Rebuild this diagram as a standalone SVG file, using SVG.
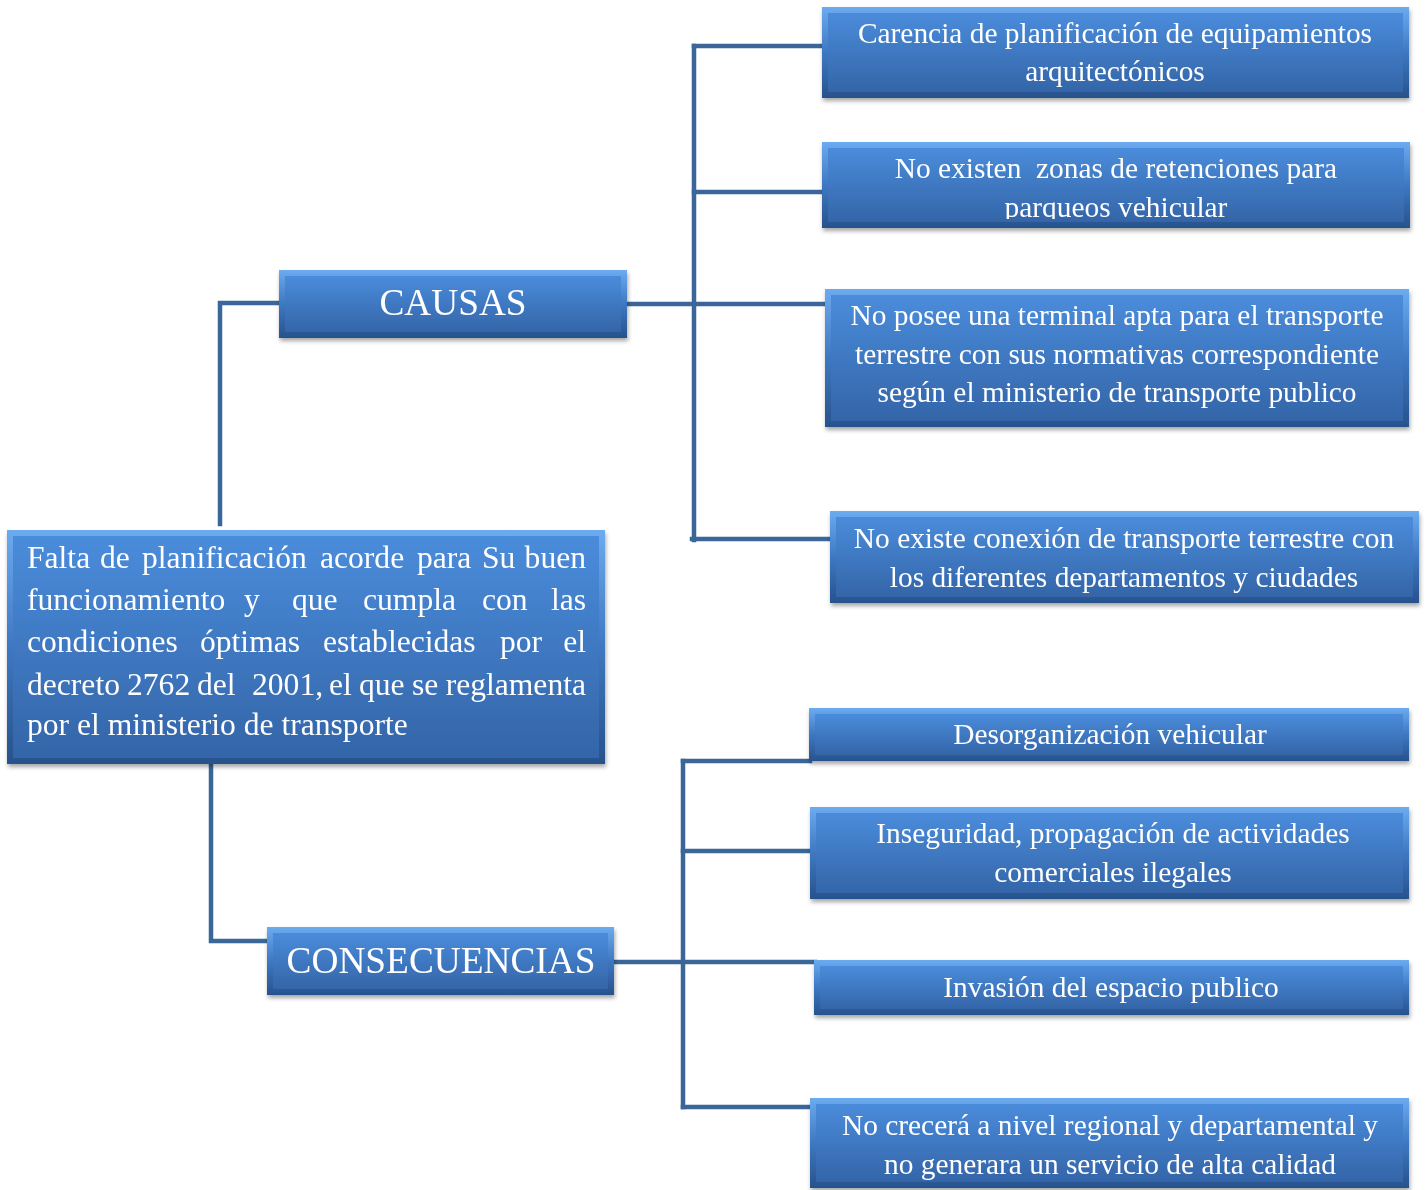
<svg xmlns="http://www.w3.org/2000/svg" width="1426" height="1190" viewBox="0 0 1426 1190">
<style>
.t{font-family:"Liberation Serif","Times New Roman",serif;fill:#ffffff;font-size:29.4px;text-anchor:middle}
.m{font-family:"Liberation Serif","Times New Roman",serif;fill:#ffffff;font-size:31.6px;text-anchor:start}
.e{text-anchor:end}
.big{font-size:37.3px}
.conn{stroke:#3a6699;stroke-width:4.5;fill:none;stroke-linecap:square}
.edge{fill:url(#bev)}
.face{fill:url(#face)}
</style>
<defs>
<linearGradient id="bev" x1="0" y1="0" x2="0" y2="1">
<stop offset="0" stop-color="#6cabf0"/>
<stop offset="0.5" stop-color="#3e78c2"/>
<stop offset="1" stop-color="#27528c"/>
</linearGradient>
<linearGradient id="face" x1="0" y1="0" x2="0" y2="1">
<stop offset="0" stop-color="#4a8cdb"/>
<stop offset="1" stop-color="#3465a8"/>
</linearGradient>
<filter id="sh" x="-5%" y="-10%" width="110%" height="130%">
<feDropShadow dx="1" dy="3" stdDeviation="2" flood-color="#000" flood-opacity="0.35"/>
</filter>
<clipPath id="c2"><rect x="822" y="142" width="588" height="77"/></clipPath>
</defs>
<rect width="1426" height="1190" fill="#ffffff"/>

<g id="connectors">
<polyline class="conn" points="220,524 220,303 281,303"/>
<line class="conn" x1="627" y1="304" x2="826" y2="304"/>
<line class="conn" x1="694" y1="46" x2="694" y2="540"/>
<line class="conn" x1="694" y1="46" x2="823" y2="46"/>
<line class="conn" x1="694" y1="192" x2="823" y2="192"/>
<line class="conn" x1="692" y1="539" x2="831" y2="539"/>
<polyline class="conn" points="211,764 211,941 268,941"/>
<line class="conn" x1="614" y1="962" x2="815" y2="962"/>
<line class="conn" x1="683" y1="761" x2="683" y2="1107"/>
<line class="conn" x1="683" y1="761" x2="810" y2="761"/>
<line class="conn" x1="683" y1="851" x2="811" y2="851"/>
<line class="conn" x1="683" y1="1107" x2="811" y2="1107"/>
</g>

<g id="main" filter="url(#sh)">
<rect class="edge" x="7" y="530" width="598" height="234"/>
<rect class="face" x="13" y="536" width="586" height="222"/>
<text class="m" y="568"><tspan x="27">Falta</tspan><tspan x="100">de</tspan><tspan x="142">planificación</tspan><tspan x="320">acorde</tspan><tspan x="417">para</tspan><tspan x="482">Su</tspan></text>
<text class="m e" x="586" y="568">buen</text>
<text class="m" y="610"><tspan x="27">funcionamiento</tspan><tspan x="244">y</tspan><tspan x="292">que</tspan><tspan x="363">cumpla</tspan><tspan x="482">con</tspan></text>
<text class="m e" x="586" y="610">las</text>
<text class="m" y="652"><tspan x="27">condiciones</tspan><tspan x="200">óptimas</tspan><tspan x="323">establecidas</tspan><tspan x="500">por</tspan></text>
<text class="m e" x="586" y="652">el</text>
<text class="m" y="695"><tspan x="27">decreto</tspan><tspan x="127">2762</tspan><tspan x="197">del</tspan><tspan x="252">2001,</tspan><tspan x="329">el</tspan><tspan x="359">que</tspan><tspan x="412">se</tspan></text>
<text class="m e" x="586" y="695">reglamenta</text>
<text class="m" x="27" y="735">por el ministerio de transporte</text>
</g>

<g id="causas" filter="url(#sh)">
<rect class="edge" x="279" y="270" width="348" height="68"/>
<rect class="face" x="285" y="276" width="336" height="56"/>
<text class="t big" x="453" y="315">CAUSAS</text>
</g>

<g id="consecuencias" filter="url(#sh)">
<rect class="edge" x="267" y="927" width="347" height="68"/>
<rect class="face" x="273" y="933" width="335" height="56"/>
<text class="t big" x="441" y="973">CONSECUENCIAS</text>
</g>

<g id="c1" filter="url(#sh)">
<rect class="edge" x="822" y="7" width="587" height="91"/>
<rect class="face" x="828" y="13" width="575" height="79"/>
<text class="t" x="1115" y="43">Carencia de planificación de equipamientos</text>
<text class="t" x="1115" y="81">arquitectónicos</text>
</g>

<g id="c2n" filter="url(#sh)">
<rect class="edge" x="822" y="142" width="588" height="86"/>
<rect class="face" x="828" y="148" width="576" height="74"/>
<g clip-path="url(#c2)">
<text class="t" x="1116" y="178" xml:space="preserve">No existen  zonas de retenciones para</text>
<text class="t" x="1116" y="217">parqueos vehicular</text>
</g>
</g>

<g id="c3" filter="url(#sh)">
<rect class="edge" x="825" y="289" width="584" height="138"/>
<rect class="face" x="831" y="295" width="572" height="126"/>
<text class="t" x="1117" y="325">No posee una terminal apta para el transporte</text>
<text class="t" x="1117" y="364">terrestre con sus normativas correspondiente</text>
<text class="t" x="1117" y="402">según el ministerio de transporte publico</text>
</g>

<g id="c4" filter="url(#sh)">
<rect class="edge" x="830" y="511" width="589" height="92"/>
<rect class="face" x="836" y="517" width="577" height="80"/>
<text class="t" x="1124" y="548">No existe conexión de transporte terrestre con</text>
<text class="t" x="1124" y="587">los diferentes departamentos y ciudades</text>
</g>

<g id="k1" filter="url(#sh)">
<rect class="edge" x="809" y="708" width="600" height="53"/>
<rect class="face" x="815" y="714" width="588" height="41"/>
<text class="t" x="1110" y="744">Desorganización vehicular</text>
</g>

<g id="k2" filter="url(#sh)">
<rect class="edge" x="810" y="807" width="599" height="92"/>
<rect class="face" x="816" y="813" width="587" height="80"/>
<text class="t" x="1113" y="843">Inseguridad, propagación de actividades</text>
<text class="t" x="1113" y="882">comerciales ilegales</text>
</g>

<g id="k3" filter="url(#sh)">
<rect class="edge" x="814" y="960" width="595" height="55"/>
<rect class="face" x="820" y="966" width="583" height="43"/>
<text class="t" x="1111" y="997">Invasión del espacio publico</text>
</g>

<g id="k4" filter="url(#sh)">
<rect class="edge" x="810" y="1098" width="599" height="90"/>
<rect class="face" x="816" y="1104" width="587" height="78"/>
<text class="t" x="1110" y="1135">No crecerá a nivel regional y departamental y</text>
<text class="t" x="1110" y="1174">no generara un servicio de alta calidad</text>
</g>
</svg>
